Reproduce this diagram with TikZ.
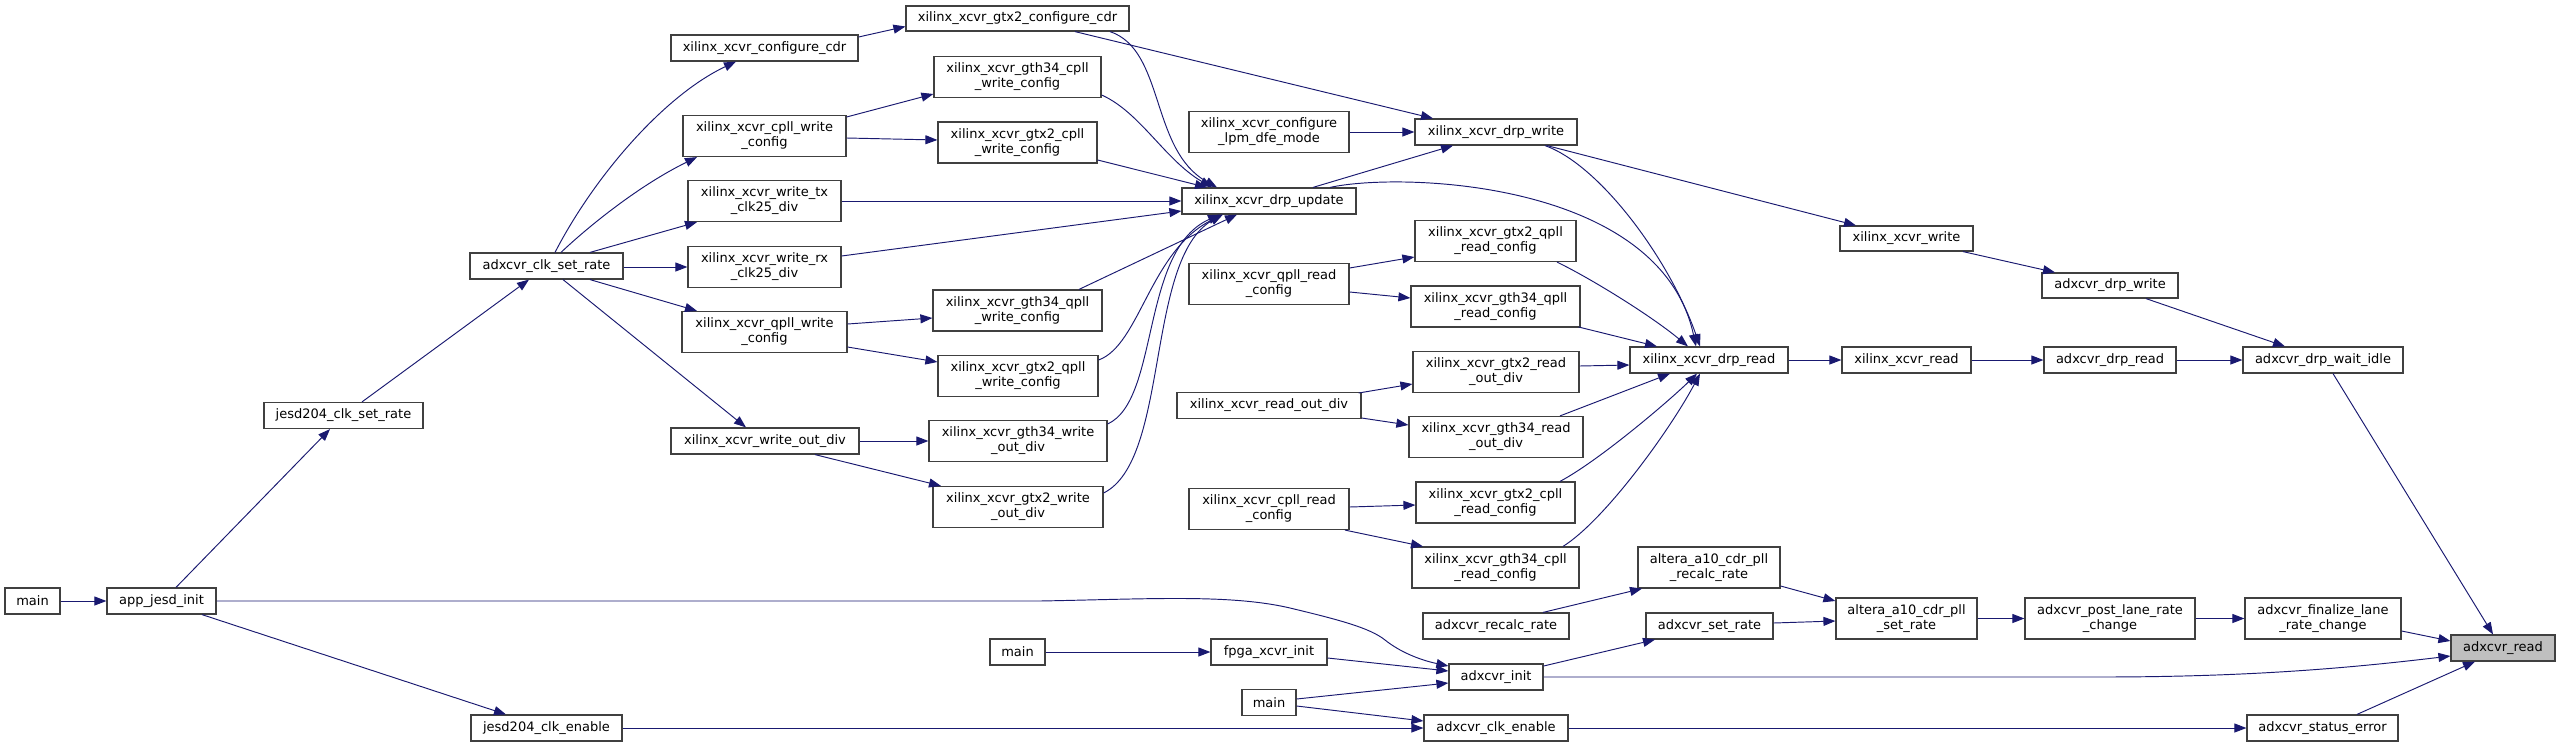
\documentclass[tikz,border=0pt]{standalone}
\usepackage{fontspec}
\setmainfont{DejaVu Sans}
\usetikzlibrary{arrows.meta,calc}
\definecolor{midnight}{HTML}{191970}
\definecolor{nodeborder}{HTML}{404040}
\definecolor{selfill}{HTML}{BFBFBF}
\begin{document}
\begin{tikzpicture}[x=1pt,y=-1pt,
 box/.style={draw=nodeborder, fill=white, line width=1.2pt, inner sep=0pt, align=center, minimum height=26pt, font=\fontsize{13}{15}\selectfont},
 two/.style={minimum height=41pt},
 conn/.style={draw=midnight, line width=0.95pt, -{Triangle[length=12pt,width=9pt]}},
]
\useasboundingbox (0,0) rectangle (2559,747);
% nodes
\node[box, minimum width=55pt] (mainA) at (32.5,601) {main};
\node[box, minimum width=109pt] (appjesd) at (161.5,601) {app\_jesd\_init};
\node[box, minimum width=159pt] (jsetrate) at (343.5,415.5) {jesd204\_clk\_set\_rate};
\node[box, minimum width=151pt] (jenable) at (546.5,728) {jesd204\_clk\_enable};
\node[box, minimum width=153pt] (clkset) at (546.5,266) {adxcvr\_clk\_set\_rate};
\node[box, minimum width=187pt] (cfgcdr) at (764.5,48) {xilinx\_xcvr\_configure\_cdr};
\node[box, two, minimum width=163pt] (cpllw) at (764.5,136) {xilinx\_xcvr\_cpll\_write\\\_config};
\node[box, two, minimum width=153pt] (txclk) at (764.5,201) {xilinx\_xcvr\_write\_tx\\\_clk25\_div};
\node[box, two, minimum width=153pt] (rxclk) at (764.5,267) {xilinx\_xcvr\_write\_rx\\\_clk25\_div};
\node[box, two, minimum width=165pt] (qpllw) at (764.5,332) {xilinx\_xcvr\_qpll\_write\\\_config};
\node[box, minimum width=188pt] (outdiv) at (765,441) {xilinx\_xcvr\_write\_out\_div};
\node[box, minimum width=223pt, minimum height=25pt] (gtx2cdr) at (1017.5,18.5) {xilinx\_xcvr\_gtx2\_configure\_cdr};
\node[box, two, minimum width=167pt] (gth34cpllw) at (1017.5,77) {xilinx\_xcvr\_gth34\_cpll\\\_write\_config};
\node[box, two, minimum width=159pt] (gtx2cpllw) at (1017.5,142.5) {xilinx\_xcvr\_gtx2\_cpll\\\_write\_config};
\node[box, two, minimum width=169pt] (gth34qpllw) at (1017.5,310.5) {xilinx\_xcvr\_gth34\_qpll\\\_write\_config};
\node[box, two, minimum width=160pt] (gtx2qpllw) at (1018,376) {xilinx\_xcvr\_gtx2\_qpll\\\_write\_config};
\node[box, two, minimum width=178pt] (gth34out) at (1018,441) {xilinx\_xcvr\_gth34\_write\\\_out\_div};
\node[box, two, minimum width=170pt] (gtx2out) at (1018,507) {xilinx\_xcvr\_gtx2\_write\\\_out\_div};
\node[box, two, minimum width=160pt] (lpm) at (1269,132) {xilinx\_xcvr\_configure\\\_lpm\_dfe\_mode};
\node[box, minimum width=174pt] (drpupd) at (1269,201) {xilinx\_xcvr\_drp\_update};
\node[box, two, minimum width=160pt] (qpllr) at (1269,284) {xilinx\_xcvr\_qpll\_read\\\_config};
\node[box, minimum width=184pt] (readout) at (1269,405.5) {xilinx\_xcvr\_read\_out\_div};
\node[box, two, minimum width=160pt] (cpllr) at (1269,509) {xilinx\_xcvr\_cpll\_read\\\_config};
\node[box, minimum width=55pt] (mainB) at (1017.5,652) {main};
\node[box, minimum width=116pt] (fpgainit) at (1269,652) {fpga\_xcvr\_init};
\node[box, minimum width=54pt] (mainC) at (1269,702.5) {main};
\node[box, minimum width=162pt] (drpwrite) at (1496,132) {xilinx\_xcvr\_drp\_write};
\node[box, two, minimum width=161pt] (gtx2qpllr) at (1495.5,241) {xilinx\_xcvr\_gtx2\_qpll\\\_read\_config};
\node[box, two, minimum width=169pt] (gth34qpllr) at (1495.5,306.5) {xilinx\_xcvr\_gth34\_qpll\\\_read\_config};
\node[box, two, minimum width=166pt] (gtx2outr) at (1496,372) {xilinx\_xcvr\_gtx2\_read\\\_out\_div};
\node[box, two, minimum width=174pt] (gth34outr) at (1496,437) {xilinx\_xcvr\_gth34\_read\\\_out\_div};
\node[box, two, minimum width=159pt] (gtx2cpllr) at (1495.5,502.5) {xilinx\_xcvr\_gtx2\_cpll\\\_read\_config};
\node[box, two, minimum width=167pt] (gth34cpllr) at (1495.5,567.5) {xilinx\_xcvr\_gth34\_cpll\\\_read\_config};
\node[box, minimum width=146pt] (recalc) at (1496,626) {adxcvr\_recalc\_rate};
\node[box, minimum width=94pt] (init) at (1496,677) {adxcvr\_init};
\node[box, minimum width=144pt] (clkenable) at (1496,728) {adxcvr\_clk\_enable};
\node[box, minimum width=158pt] (drpread) at (1709,360) {xilinx\_xcvr\_drp\_read};
\node[box, two, minimum width=142pt] (a10recalc) at (1709,567.5) {altera\_a10\_cdr\_pll\\\_recalc\_rate};
\node[box, minimum width=127pt] (setrate) at (1709.5,626) {adxcvr\_set\_rate};
\node[box, minimum width=133pt, minimum height=25pt] (xwrite) at (1906.5,238.5) {xilinx\_xcvr\_write};
\node[box, minimum width=129pt] (xread) at (1906.5,360) {xilinx\_xcvr\_read};
\node[box, two, minimum width=141pt] (a10set) at (1906.5,618.5) {altera\_a10\_cdr\_pll\\\_set\_rate};
\node[box, minimum width=136pt, minimum height=25pt] (adrpwrite) at (2110,285.5) {adxcvr\_drp\_write};
\node[box, minimum width=132pt] (adrpread) at (2110,360) {adxcvr\_drp\_read};
\node[box, two, minimum width=170pt] (postlane) at (2110,618.5) {adxcvr\_post\_lane\_rate\\\_change};
\node[box, minimum width=160pt] (waitidle) at (2323,360) {adxcvr\_drp\_wait\_idle};
\node[box, two, minimum width=156pt] (finalize) at (2323,618.5) {adxcvr\_finalize\_lane\\\_rate\_change};
\node[box, minimum width=151pt] (status) at (2322.5,728) {adxcvr\_status\_error};
\node[box, fill=selfill, minimum width=104pt] (read) at (2503,648) {adxcvr\_read};
% edges
\draw[conn] (mainA.east) -- (appjesd.west);
\draw[conn] ($(appjesd.north)+(14.5,0)$) -- ($(jsetrate.south)+(-13.5,0)$);
\draw[conn] ($(appjesd.south)+(40.5,0)$) -- ($(jenable.north)+(-40.5,0)$);
\draw[conn] (appjesd.east) -- (1040,601) .. controls (1150,599) and (1230,594) .. (1290,608) .. controls (1340,620) and (1370,628) .. (1385,640) .. controls (1400,652) and (1420,660) .. ($(init.west)+(0,-11)$);
\draw[conn] ($(jsetrate.north)+(18.5,0)$) -- ($(clkset.south)+(-17.5,0)$);
\draw[conn] (jenable.east) -- (clkenable.west);
\draw[conn] ($(clkset.north)+(8.5,0)$) .. controls (595,175) and (665,95) .. ($(cfgcdr.south)+(-28.5,0)$);
\draw[conn] ($(clkset.north)+(14.5,0)$) .. controls (590,225) and (640,185) .. ($(cpllw.south)+(-67.5,0)$);
\draw[conn] ($(clkset.north)+(43.5,0)$) -- ($(txclk.south)+(-67.5,0)$);
\draw[conn] ($(clkset.east)+(0,1)$) -- (rxclk.west);
\draw[conn] ($(clkset.south)+(43.5,0)$) -- ($(qpllw.north)+(-67.5,0)$);
\draw[conn] ($(clkset.south)+(16.5,0)$) -- ($(outdiv.north)+(-19,0)$);
\draw[conn] ($(cfgcdr.east)+(0,-11)$) -- ($(gtx2cdr.west)+(0,8)$);
\draw[conn] ($(cpllw.east)+(0,-19)$) -- ($(gth34cpllw.west)+(0,17)$);
\draw[conn] ($(cpllw.east)+(0,2)$) -- ($(gtx2cpllw.west)+(0,-2.5)$);
\draw[conn] (txclk.east) -- (drpupd.west);
\draw[conn] ($(rxclk.east)+(0,-11)$) -- ($(drpupd.west)+(0,10)$);
\draw[conn] ($(qpllw.east)+(0,-8)$) -- ($(gth34qpllw.west)+(0,7.5)$);
\draw[conn] ($(qpllw.east)+(0,15)$) -- ($(gtx2qpllw.west)+(0,-14)$);
\draw[conn] (outdiv.east) -- (gth34out.west);
\draw[conn] ($(outdiv.south)+(50,0)$) -- ($(gtx2out.north)+(-77,0)$);
\draw[conn] ($(gtx2cdr.south)+(57.5,0)$) -- ($(drpwrite.north)+(-63,0)$);
\draw[conn] ($(gtx2cdr.south)+(92.5,0)$) .. controls (1165,50) and (1150,150) .. ($(drpupd.north)+(-52,0)$);
\draw[conn] ($(gth34cpllw.east)+(0,18)$) .. controls (1140,112) and (1165,160) .. ($(drpupd.north)+(-57,0)$);
\draw[conn] ($(gtx2cpllw.east)+(0,17.5)$) -- ($(drpupd.north)+(-62,0)$);
\draw[conn] ($(gth34qpllw.north)+(61.5,0)$) -- ($(drpupd.south)+(-32,0)$);
\draw[conn] ($(gtx2qpllw.east)+(0,-16)$) .. controls (1140,345) and (1150,250) .. ($(drpupd.south)+(-46,0)$);
\draw[conn] ($(gth34out.east)+(0,-17)$) .. controls (1160,400) and (1140,250) .. ($(drpupd.south)+(-49,0)$);
\draw[conn] ($(gtx2out.east)+(0,-14)$) .. controls (1170,460) and (1145,260) .. ($(drpupd.south)+(-47,0)$);
\draw[conn] (lpm.east) -- (drpwrite.west);
\draw[conn] ($(drpupd.north)+(44,0)$) -- ($(drpwrite.south)+(-43,0)$);
\draw[conn] ($(drpupd.north)+(61,0)$) .. controls (1400,172) and (1660,180) .. ($(drpread.north)+(-13,0)$);
\draw[conn] ($(qpllr.east)+(0,-16)$) -- ($(gtx2qpllr.west)+(0,16)$);
\draw[conn] ($(qpllr.east)+(0,8)$) -- ($(gth34qpllr.west)+(0,-8.5)$);
\draw[conn] ($(readout.east)+(-3,-12.5)$) -- ($(gtx2outr.west)+(0,12)$);
\draw[conn] ($(readout.east)+(0,12.5)$) -- ($(gth34outr.west)+(0,-12)$);
\draw[conn] ($(cpllr.east)+(0,-2)$) -- ($(gtx2cpllr.west)+(0,2.5)$);
\draw[conn] ($(cpllr.south)+(76,0)$) -- ($(gth34cpllr.north)+(-72.5,0)$);
\draw[conn] ($(gtx2qpllr.south)+(61.5,0)$) .. controls (1590,278) and (1650,315) .. ($(drpread.north)+(-21,0)$);
\draw[conn] ($(gth34qpllr.east)+(-2,20.5)$) -- ($(drpread.north)+(-52,0)$);
\draw[conn] ($(gtx2outr.east)+(0,-6)$) -- ($(drpread.west)+(0,5)$);
\draw[conn] ($(gth34outr.north)+(64,0)$) -- ($(drpread.south)+(-39,0)$);
\draw[conn] ($(gtx2cpllr.north)+(64.5,0)$) .. controls (1600,460) and (1670,400) .. ($(drpread.south)+(-12,0)$);
\draw[conn] ($(gth34cpllr.north)+(67.5,0)$) .. controls (1605,520) and (1670,430) .. ($(drpread.south)+(-9,0)$);
\draw[conn] ($(drpwrite.south)+(49,0)$) .. controls (1600,165) and (1670,260) .. ($(drpread.north)+(-9,0)$);
\draw[conn] ($(drpwrite.south)+(51,0)$) -- ($(xwrite.north)+(-50.5,0)$);
\draw[conn] (drpread.east) -- (xread.west);
\draw[conn] ($(xwrite.south)+(56.5,0)$) -- ($(adrpwrite.north)+(-55,0)$);
\draw[conn] (xread.east) -- (adrpread.west);
\draw[conn] ($(adrpwrite.south)+(36,0)$) -- ($(waitidle.north)+(-38,0)$);
\draw[conn] (adrpread.east) -- (waitidle.west);
\draw[conn] ($(waitidle.south)+(10,0)$) -- ($(read.north)+(-10,0)$);
\draw[conn] ($(a10recalc.east)+(0,18.5)$) -- ($(a10set.west)+(0,-17.5)$);
\draw[conn] ($(recalc.north)+(47,0)$) -- ($(a10recalc.south)+(-67,0)$);
\draw[conn] ($(setrate.east)+(0,-3)$) -- ($(a10set.west)+(0,2.5)$);
\draw[conn] ($(init.east)+(0,-11)$) -- ($(setrate.south)+(-54.5,0)$);
\draw[conn] ($(fpgainit.east)+(0,6)$) -- ($(init.west)+(0,-6)$);
\draw[conn] (mainB.east) -- (fpgainit.west);
\draw[conn] ($(mainC.east)+(0,-3.5)$) -- ($(init.west)+(0,6)$);
\draw[conn] ($(mainC.east)+(0,3.5)$) -- ($(clkenable.west)+(0,-7)$);
\draw[conn] (init.east) -- (2100,677) .. controls (2250,677) and (2350,668) .. ($(read.west)+(0,8)$);
\draw[conn] (a10set.east) -- (postlane.west);
\draw[conn] (postlane.east) -- (finalize.west);
\draw[conn] ($(finalize.east)+(0,12.5)$) -- ($(read.west)+(0,-7)$);
\draw[conn] (clkenable.east) -- (status.west);
\draw[conn] ($(status.north)+(34.5,0)$) -- ($(read.south)+(-28,0)$);
\end{tikzpicture}
\end{document}
